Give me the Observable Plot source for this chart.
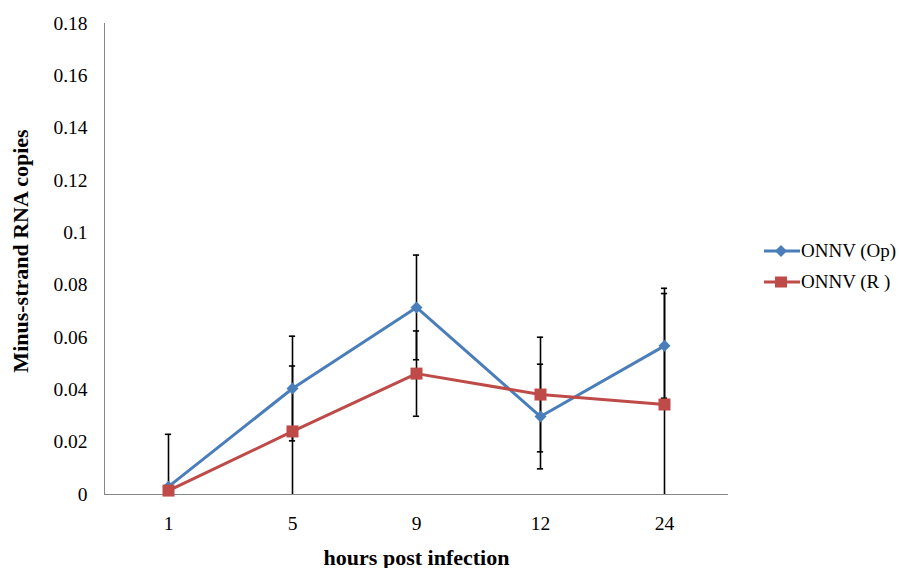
<!DOCTYPE html>
<html>
<head>
<meta charset="utf-8">
<script src="https://cdn.jsdelivr.net/npm/d3@7"></script>
<script src="https://cdn.jsdelivr.net/npm/@observablehq/plot@0.6"></script>
<style>
  body { margin: 0; background: #fff; }
  #wrap { position: relative; width: 899px; height: 568px; }
  #chart svg, #chart svg text { font-family: "Liberation Serif", "Times New Roman", Times, "DejaVu Serif", serif !important; }
  #chart [aria-label="x-axis label"] text { font-weight: bold; font-size: 22px; }
  #legend { position: absolute; left: 764px; top: 235px; font-family: "Liberation Serif", "Times New Roman", Times, "DejaVu Serif", serif; font-size: 19px; color: #000; }
  #legend .row { display: flex; align-items: center; height: 31px; }
  #legend svg { display: block; margin-right: 1px; }
</style>
</head>
<body>
<div id="wrap">
  <div id="chart"></div>
  <div id="legend"></div>
</div>
<script>
const hours = ["1", "5", "9", "12", "24"];
const seriesNames = ["ONNV (Op)", "ONNV (R )"];
const opValues = [0.003, 0.0405, 0.0715, 0.0298, 0.0568];
const opErrors = [0.020, 0.020, 0.020, 0.020, 0.020];
const rValues = [0.0015, 0.0241, 0.0462, 0.0382, 0.0344];
const rErrors = [0.002, 0.025, 0.0163, 0.0219, 0.0444];
const yTicks = [0, 0.02, 0.04, 0.06, 0.08, 0.1, 0.12, 0.14, 0.16, 0.18];
const yTitle = "Minus-strand RNA copies";
const xTitle = "hours post infection";
const colors = ["#4A7EBB", "#BE4B48"];

const rows = [];
hours.forEach((h, i) => {
  rows.push({hour: h, series: seriesNames[0], value: opValues[i], err: opErrors[i]});
});
hours.forEach((h, i) => {
  rows.push({hour: h, series: seriesNames[1], value: rValues[i], err: rErrors[i]});
});
const opRows = rows.filter(d => d.series === seriesNames[0]);
const rRows = rows.filter(d => d.series === seriesNames[1]);

const diamond = {draw(ctx) { const r = 6; ctx.moveTo(0, -r); ctx.lineTo(r, 0); ctx.lineTo(0, r); ctx.lineTo(-r, 0); ctx.closePath(); }};
const square = {draw(ctx) { const r = 6; ctx.rect(-r, -r, 2 * r, 2 * r); }};

const lo = d => Math.max(0, d.value - d.err);
const hi = d => d.value + d.err;

const bandW = (899 - 104 - 171) / hours.length;
const capInset = bandW / 2 - 3.5;

const chart = Plot.plot({
  width: 899,
  height: 568,
  marginLeft: 104,
  marginRight: 171,
  marginTop: 23,
  marginBottom: 74,
  style: {fontSize: "19.5px", color: "#000", background: "#fff"},
  x: {type: "band", domain: hours, padding: 0},
  y: {domain: [0, 0.18]},
  marks: [
    Plot.frame({anchor: "left", stroke: "#868686"}),
    Plot.ruleY([0], {stroke: "#868686"}),
    Plot.axisY({ticks: yTicks, tickSize: 0, tickPadding: 17, tickFormat: d => String(+d.toFixed(2)), label: null}),
    Plot.text([yTitle], {text: d => d, frameAnchor: "left", textAnchor: "middle", lineAnchor: "middle", rotate: -90, dx: -84, dy: -8, fontSize: 22, fontWeight: "bold", fill: "#000"}),
    Plot.axisX({tickSize: 0, tickPadding: 22, label: xTitle, labelAnchor: "center", labelArrow: "none", labelOffset: 70}),
    Plot.ruleX(rows, {x: "hour", y1: lo, y2: hi, stroke: "#000", strokeWidth: 1.6}),
    Plot.tickY(rows, {x: "hour", y: hi, stroke: "#000", strokeWidth: 1.6, insetLeft: capInset, insetRight: capInset}),
    Plot.tickY(rows.filter(d => d.value - d.err > 0), {x: "hour", y: lo, stroke: "#000", strokeWidth: 1.6, insetLeft: capInset, insetRight: capInset}),
    Plot.line(opRows, {x: "hour", y: "value", stroke: colors[0], strokeWidth: 3}),
    Plot.dot(opRows, {x: "hour", y: "value", symbol: diamond, fill: colors[0], stroke: "none", r: 5}),
    Plot.line(rRows, {x: "hour", y: "value", stroke: colors[1], strokeWidth: 3}),
    Plot.dot(rRows, {x: "hour", y: "value", symbol: square, fill: colors[1], stroke: "none", r: 5})
  ]
});
document.getElementById("chart").append(chart);

const legend = document.getElementById("legend");
const shapes = [
  '<polygon points="17,1 23,7 17,13 11,7" />',
  '<rect x="11" y="1.5" width="12" height="11" />'
];
seriesNames.forEach((name, i) => {
  const row = document.createElement("div");
  row.className = "row";
  row.innerHTML = `<svg width="36" height="14"><line x1="0" y1="7" x2="36" y2="7" stroke="${colors[i]}" stroke-width="3"/><g fill="${colors[i]}">${shapes[i]}</g></svg><span>${name}</span>`;
  legend.append(row);
});
</script>
</body>
</html>
